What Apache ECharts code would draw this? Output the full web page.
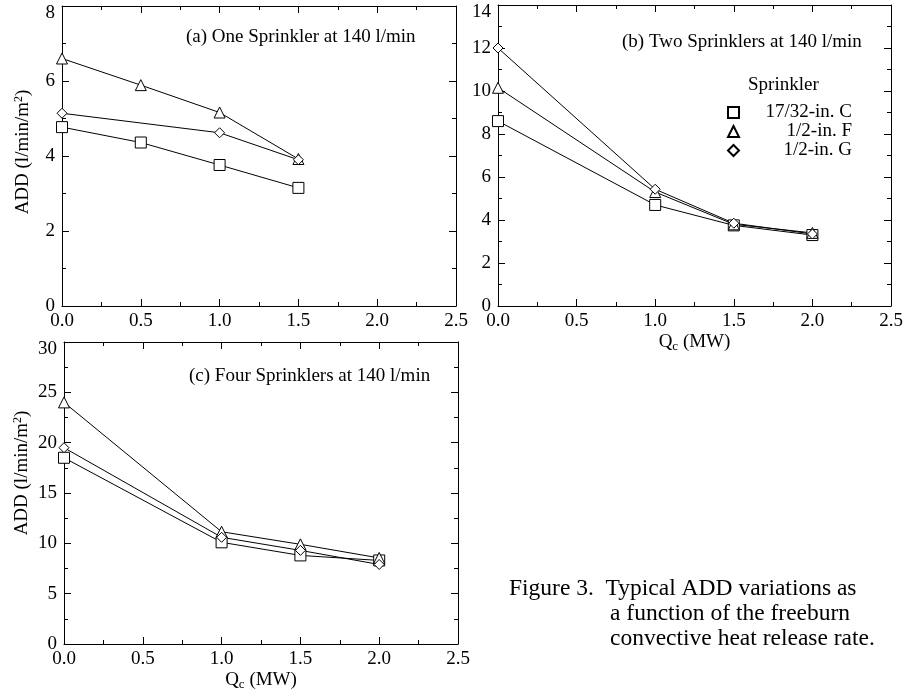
<!DOCTYPE html>
<html><head><meta charset="utf-8">
<script src="https://cdn.jsdelivr.net/npm/echarts@6/dist/echarts.min.js"></script>
<style>html,body{margin:0;padding:0;background:#fff}#c{width:914px;height:699px}</style>
</head><body><div id="c"></div>
<script>
// ---- data ----
const seriesNames = ['17/32-in. C', '1/2-in. F', '1/2-in. G'];
const seriesSymbols = ['rect', 'triangle', 'diamond'];

// (a) One Sprinkler at 140 l/min
const aX_C = [0.0, 0.5, 1.0, 1.5];
const aY_C = [4.77, 4.36, 3.76, 3.15];
const aX_F = [0.0, 0.5, 1.0, 1.5];
const aY_F = [6.60, 5.89, 5.16, 3.92];
const aX_G = [0.0, 1.0, 1.5];
const aY_G = [5.14, 4.62, 3.90];

// (b) Two Sprinklers at 140 l/min
const bX = [0.0, 1.0, 1.5, 2.0];
const bY_C = [8.60, 4.70, 3.75, 3.30];
const bY_F = [10.15, 5.30, 3.80, 3.40];
const bY_G = [12.00, 5.43, 3.85, 3.35];

// (c) Four Sprinklers at 140 l/min
const cX = [0.0, 1.0, 1.5, 2.0];
const cY_C = [18.5, 10.1, 8.8, 8.3];
const cY_F = [24.0, 11.15, 9.9, 8.55];
const cY_G = [19.5, 10.6, 9.3, 7.9];

const panelTitles = ['(a) One Sprinkler at 140 l/min', '(b) Two Sprinklers at 140 l/min', '(c) Four Sprinklers at 140 l/min'];
const xName = 'Q{sub|c} (MW)';
const yName = 'ADD (l/min/m{sup|2})';
const legendTitle = 'Sprinkler';
const captionLines = ['Figure 3.  Typical ADD variations as', 'a function of the freeburn', 'convective heat release rate.'];
const xRange = [0, 2.5, 0.5];
const yRanges = [[0, 8, 2], [0, 14, 2], [0, 30, 5]];

// ---- chart ----
const FONT = "'Liberation Serif', 'Times New Roman', serif";
const zip = (xs, ys) => xs.map((x, i) => [x, ys[i]]);
const panels = [
  [zip(aX_C, aY_C), zip(aX_F, aY_F), zip(aX_G, aY_G)],
  [zip(bX, bY_C), zip(bX, bY_F), zip(bX, bY_G)],
  [zip(cX, cY_C), zip(cX, cY_F), zip(cX, cY_G)]
];
const grids = [
  {left: 62, top: 6, width: 394, height: 300},
  {left: 498, top: 5, width: 393, height: 301},
  {left: 64, top: 342, width: 394, height: 302}
];
const richName = {
  sub: {fontSize: 13, fontFamily: FONT, color: '#000', verticalAlign: 'bottom', padding: [8, 0, 0, 0]},
  sup: {fontSize: 12, fontFamily: FONT, color: '#000', verticalAlign: 'top', padding: [0, 0, 8, 0]}
};
const tickCommon = {
  axisLine: {show: true, onZero: false, lineStyle: {color: '#000', width: 1}},
  axisTick: {show: true, inside: true, length: 7, lineStyle: {color: '#000', width: 1}},
  minorTick: {show: true, splitNumber: 2, length: 4, lineStyle: {color: '#000', width: 1}},
  splitLine: {show: false},
  minorSplitLine: {show: false}
};
const xAxes = [], yAxes = [];
grids.forEach((g, i) => {
  const xShowName = i > 0;
  xAxes.push(Object.assign({
    gridIndex: i, type: 'value', position: 'bottom', min: xRange[0], max: xRange[1], interval: xRange[2],
    axisLabel: {color: '#000', fontFamily: FONT, fontSize: 19, margin: 6, formatter: v => v.toFixed(1)},
    name: xShowName ? xName : '', nameLocation: 'middle', nameGap: 26,
    nameTextStyle: {color: '#000', fontFamily: FONT, fontSize: 19, rich: richName}
  }, tickCommon));
  xAxes.push(Object.assign({
    gridIndex: i, type: 'value', position: 'top', min: xRange[0], max: xRange[1], interval: xRange[2],
    axisLabel: {show: false}
  }, tickCommon));
  const yr = yRanges[i];
  const yShowName = i !== 1;
  yAxes.push(Object.assign({
    gridIndex: i, type: 'value', position: 'left', min: yr[0], max: yr[1], interval: yr[2],
    axisLabel: {color: '#000', fontFamily: FONT, fontSize: 19, margin: 7,
      formatter: v => v === yr[1] ? '{t|' + v + '}' : String(v),
      rich: {t: {fontFamily: FONT, fontSize: 19, color: '#000', padding: [14, 0, 0, 0]}}},
    name: yShowName ? yName : '', nameLocation: 'middle', nameGap: i === 0 ? 29 : 32,
    nameTextStyle: {color: '#000', fontFamily: FONT, fontSize: 19, rich: richName, padding: i === 2 ? [0, 0, 0, 40] : [0, 0, 0, 8]}
  }, tickCommon));
  yAxes.push(Object.assign({
    gridIndex: i, type: 'value', position: 'right', min: yr[0], max: yr[1], interval: yr[2],
    axisLabel: {show: false}
  }, tickCommon));
});

const series = [];
panels.forEach((p, i) => {
  p.forEach((data, k) => {
    series.push({
      type: 'line', name: seriesNames[k], xAxisIndex: 2 * i, yAxisIndex: 2 * i, data: data,
      symbol: seriesSymbols[k], symbolSize: k === 2 ? 10 : 11,
      lineStyle: {color: '#000', width: 1},
      itemStyle: {color: '#fff', borderColor: '#000', borderWidth: 1},
      emphasis: {disabled: true}, animation: false
    });
  });
});

const titlePos = [[186, 38], [622, 43], [189, 377]];
const graphics = panelTitles.map((t, i) => ({
  type: 'text', left: titlePos[i][0], top: titlePos[i][1] - 10,
  style: {text: t, font: '19px ' + FONT, fill: '#000'}
}));
graphics.push({type: 'text', left: 748, top: 76, style: {text: legendTitle, font: '19px ' + FONT, fill: '#000'}});
const capPos = [[509, 589], [610, 614], [610, 639]];
captionLines.forEach((t, i) => graphics.push({
  type: 'text', x: capPos[i][0], y: capPos[i][1],
  style: {text: t, font: '23.5px ' + FONT, fill: '#000', verticalAlign: 'middle', align: 'left'}
}));

const chart = echarts.init(document.getElementById('c'), null, {renderer: 'canvas'});
chart.setOption({
  backgroundColor: '#fff',
  animation: false,
  grid: grids,
  xAxis: xAxes,
  yAxis: yAxes,
  legend: {
    orient: 'vertical', left: 722, top: 98, itemWidth: 11, itemHeight: 11, itemGap: 0,
    selectedMode: false,
    data: seriesNames.map((n, k) => ({name: n, icon: seriesSymbols[k]})),
    formatter: n => '{r|' + n + '}',
    textStyle: {color: '#000', fontFamily: FONT, fontSize: 19, lineHeight: 17,
      rich: {r: {width: 108, align: 'right', fontFamily: FONT, fontSize: 19, lineHeight: 17, color: '#000'}}}
  },
  graphic: graphics,
  series: series
});
</script></body></html>
